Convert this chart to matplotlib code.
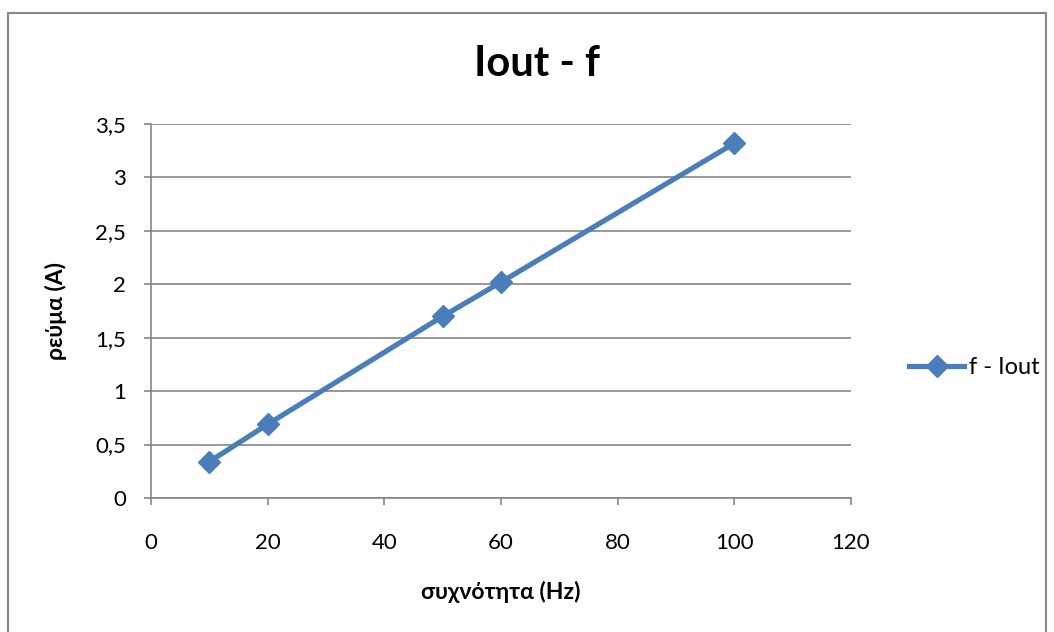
import matplotlib
matplotlib.use("Agg")
import matplotlib.pyplot as plt
from matplotlib.patches import Rectangle

# Measured output current against frequency
freq_hz = [10, 20, 50, 60, 100]
current_a = [0.34, 0.69, 1.70, 2.02, 3.32]
x_ticks = [0, 20, 40, 60, 80, 100, 120]
y_ticks = [0, 0.5, 1, 1.5, 2, 2.5, 3, 3.5]
y_tick_labels = ["0", "0,5", "1", "1,5", "2", "2,5", "3", "3,5"]

plt.rcParams['font.family'] = ['Lato', 'Noto Sans', 'DejaVu Sans']

line_color = '#4A7EBB'
grid_color = '#868686'

W, H = 1054, 632
fig = plt.figure(figsize=(W / 100, H / 100), dpi=100)
ax = fig.add_axes([151 / W, 1 - 498 / H, 700 / W, 374 / H])

# Chart-area border
fig.patches.append(Rectangle((8 / W, -0.05), 1038 / W, 1 - 13 / H + 0.05,
                             transform=fig.transFigure, fill=False,
                             edgecolor=grid_color, linewidth=1.5))

ax.plot(freq_hz, current_a, color=line_color, linewidth=3.75, marker='D',
        markersize=11, markerfacecolor=line_color, markeredgecolor=line_color,
        label='f - Iout', zorder=3)

ax.set_xlim(0, 120)
ax.set_ylim(0, 3.5)
ax.set_xticks(x_ticks)
ax.set_yticks(y_ticks)
ax.set_yticklabels(y_tick_labels)
ax.tick_params(axis='both', labelsize=16, color=grid_color, length=5, width=1.2)
ax.tick_params(axis='x', pad=20)
ax.tick_params(axis='y', pad=13)

ax.grid(axis='y', color=grid_color, linewidth=1.2)
ax.set_axisbelow(True)
for side in ['top', 'right']:
    ax.spines[side].set_visible(False)
for side in ['left', 'bottom']:
    ax.spines[side].set_color(grid_color)
    ax.spines[side].set_linewidth(1.2)

fig.text(537 / W, 1 - 64 / H, 'Iout - f', fontsize=30, fontweight='bold',
         ha='center', va='center')
ax.set_xlabel('συχνότητα (Hz)', fontsize=16.5, fontweight='bold', labelpad=20)
ax.set_ylabel('ρεύμα (A)', fontsize=16.5, fontweight='bold', labelpad=20)

fig.legend(loc='center left', bbox_to_anchor=(900 / W, 1 - 368 / H),
           frameon=False, fontsize=17, handlelength=2.33, handletextpad=0.2,
           borderaxespad=0)

fig.savefig('out.png', dpi=100)
